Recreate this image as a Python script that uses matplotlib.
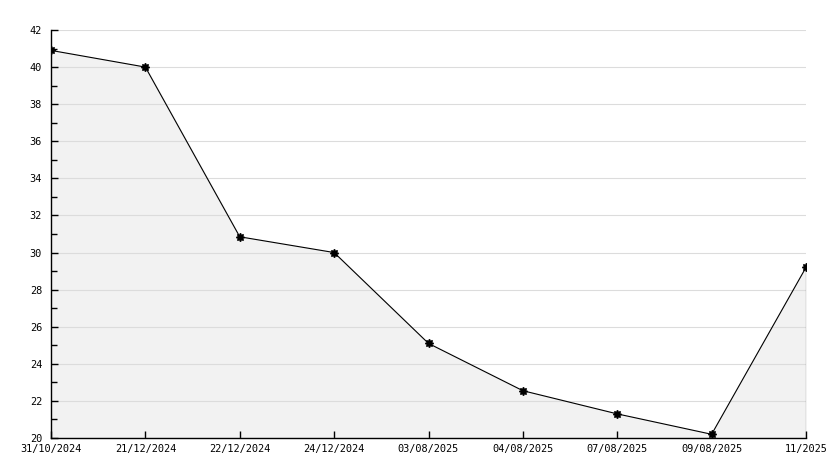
import matplotlib
matplotlib.use("Agg")
import matplotlib.pyplot as plt
from matplotlib.ticker import MultipleLocator

dates = ["31/10/2024", "21/12/2024", "22/12/2024", "24/12/2024", "03/08/2025",
         "04/08/2025", "07/08/2025", "09/08/2025", "11/2025"]
values = [40.9, 40.0, 30.85, 30.0, 25.1, 22.55, 21.3, 20.2, 29.2]

plt.rcParams["font.family"] = ["DejaVu Sans Mono"]
fig = plt.figure(figsize=(8.34, 4.68), dpi=100)
ax = fig.add_axes([51/834, 30/468, 755/834, 408/468])
x = list(range(len(values)))
ax.fill_between(x, values, 20, color="#f2f2f2", zorder=1)
ax.plot(x, values, color="black", lw=0.8, marker=(8, 1, 0), ms=6, zorder=3)
ax.plot([x[-1], x[-1]], [20, values[-1]], color="black", lw=0.8, zorder=3)
ax.set_xlim(0, len(values) - 1)
ax.set_ylim(20, 42)
ax.yaxis.set_major_locator(MultipleLocator(2))
ax.yaxis.set_minor_locator(MultipleLocator(1))
ax.set_xticks(x)
ax.set_xticklabels(dates)
ax.grid(axis="y", which="major", color="#dcdcdc", lw=0.8, zorder=0)
for s in ["top", "right"]:
    ax.spines[s].set_visible(False)
for s in ["left", "bottom"]:
    ax.spines[s].set_linewidth(1.0)
ax.tick_params(axis="both", which="major", direction="in", length=5, width=1, labelsize=7.4)
ax.tick_params(axis="y", which="major", pad=6.5)
ax.tick_params(axis="y", which="minor", direction="in", length=4, width=1)
ax.tick_params(axis="x", pad=4.5)
plt.savefig("out.png", dpi=100)
